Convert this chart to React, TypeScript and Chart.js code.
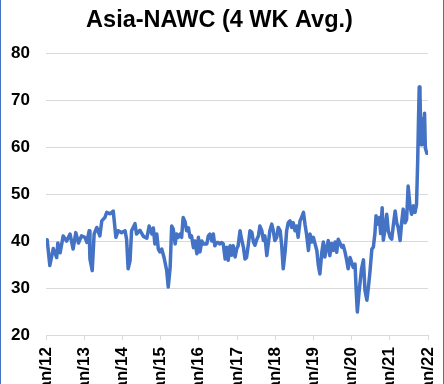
import React, { useEffect, useRef } from "react";
import { Chart, registerables } from "chart.js";

Chart.register(...registerables);

const TITLE = "Asia-NAWC (4 WK Avg.)";
const FONT = "'Liberation Sans', Arial, sans-serif";
const LINE_COLOR = "#4472C4";

// x axis: years (2-digit), y axis: rate
const yearStart = 12;
const yearEnd = 22;
const yMin = 20;
const yMax = 80;
const yStep = 10;

// decimal year of each observation
const dates = [
  12.03, 12.10, 12.19, 12.28, 12.31, 12.37, 12.45, 12.54, 12.63, 12.71, 12.78, 12.85, 12.93,
  13.02, 13.07, 13.13, 13.15, 13.21, 13.26, 13.33, 13.41, 13.46, 13.54, 13.59, 13.68, 13.76, 13.83, 13.89, 13.98,
  14.07, 14.11, 14.15, 14.20, 14.24, 14.33, 14.37, 14.46, 14.55, 14.64, 14.70, 14.77, 14.81, 14.85, 14.90, 14.94, 14.98,
  15.03, 15.09, 15.16, 15.20, 15.25, 15.29, 15.33, 15.38, 15.42, 15.46, 15.51, 15.55, 15.59, 15.64, 15.68, 15.73, 15.77, 15.81, 15.86, 15.90, 15.95, 15.99,
  16.03, 16.08, 16.12, 16.21, 16.25, 16.29, 16.34, 16.38, 16.42, 16.47, 16.51, 16.55, 16.60, 16.64, 16.69, 16.73, 16.77, 16.82, 16.86, 16.90, 16.95, 16.99,
  17.03, 17.08, 17.12, 17.17, 17.21, 17.25, 17.30, 17.34, 17.39, 17.43, 17.47, 17.52, 17.56, 17.60, 17.65, 17.69, 17.73, 17.78, 17.82, 17.86, 17.91, 17.95, 17.99,
  18.04, 18.08, 18.13, 18.17, 18.21, 18.26, 18.30, 18.34, 18.39, 18.43, 18.47, 18.52, 18.56, 18.60, 18.65, 18.69, 18.74, 18.78, 18.82, 18.87, 18.91, 18.96,
  19.00, 19.04, 19.09, 19.13, 19.17, 19.22, 19.26, 19.30, 19.35, 19.39, 19.43, 19.48, 19.52, 19.57, 19.61, 19.65, 19.70, 19.74, 19.78, 19.83, 19.87, 19.91, 19.96,
  20.00, 20.04, 20.09, 20.12, 20.15, 20.20, 20.26, 20.31, 20.35, 20.40, 20.44, 20.48, 20.53, 20.57, 20.61, 20.64, 20.67, 20.73, 20.76, 20.80, 20.83, 20.87, 20.92, 20.96,
  21.01, 21.05, 21.09, 21.14, 21.18, 21.22, 21.27, 21.31, 21.35, 21.40, 21.44, 21.48, 21.53, 21.57, 21.62, 21.66, 21.70, 21.73, 21.75, 21.77, 21.79, 21.82, 21.84, 21.88, 21.91, 21.93, 21.97,
];

// 4-week average rate
const rates = [
  40.3, 34.8, 38.4, 36.5, 39.6, 37.5, 41.1, 40.0, 41.5, 38.3, 41.8, 39.6, 41.1,
  40.8, 39.7, 42.2, 36.2, 33.7, 41.5, 42.9, 41.1, 44.3, 45.0, 46.1, 45.8, 46.4, 40.8, 42.2, 41.8,
  42.2, 40.4, 34.1, 35.8, 42.2, 43.7, 41.5, 42.3, 41.0, 40.6, 43.2, 41.5, 42.8, 39.4, 41.5, 38.3, 37.7,
  38.3, 36.5, 33.7, 30.2, 34.4, 43.2, 42.6, 39.4, 41.5, 40.8, 41.5, 40.8, 45.0, 44.1, 42.2, 42.8, 40.8, 41.1, 38.6, 40.0, 37.3, 40.8,
  37.7, 40.0, 39.4, 39.4, 41.1, 41.5, 40.0, 41.5, 39.0, 39.7, 39.7, 39.4, 39.7, 39.4, 36.2, 38.7, 35.9, 39.0, 37.0, 39.0, 36.6, 38.3,
  39.0, 42.2, 40.4, 38.6, 36.2, 36.5, 39.5, 42.2, 41.8, 39.8, 39.1, 40.4, 41.1, 43.2, 42.2, 40.1, 41.1, 36.9, 39.5, 42.2, 43.6, 42.2, 40.1,
  40.8, 42.9, 42.2, 39.1, 34.1, 37.8, 42.2, 43.9, 44.3, 42.9, 43.9, 42.2, 43.2, 40.8, 44.3, 45.0, 46.1, 43.6, 41.5, 38.0, 41.5, 39.8,
  40.8, 39.5, 38.0, 34.8, 33.0, 37.6, 39.8, 36.6, 38.7, 40.1, 36.9, 39.5, 38.0, 39.8, 37.6, 40.4, 39.5, 38.7, 39.1, 37.6, 36.0, 34.1, 36.5,
  35.5, 34.4, 35.1, 29.5, 24.9, 29.5, 34.1, 36.0, 29.5, 27.4, 30.2, 33.4, 38.3, 38.7, 41.6, 45.4, 43.6, 45.0, 41.6, 47.1, 40.2, 42.2, 45.7, 42.2,
  40.8, 40.4, 43.2, 46.4, 43.9, 42.9, 40.1, 43.9, 46.8, 43.9, 44.6, 51.7, 47.4, 45.7, 47.5, 46.1, 47.8, 57.0, 65.4, 72.8, 71.4, 60.5, 66.1, 61.9, 67.2, 59.8, 58.7,
];

const tickLabel = (year: number) => "Jan/" + year;

export default function App() {
  const ref = useRef<HTMLCanvasElement>(null);

  useEffect(() => {
    const points = dates.map((d, i) => ({ x: d, y: rates[i] }));
    const chart = new Chart(ref.current as HTMLCanvasElement, {
      type: "line",
      data: {
        datasets: [
          {
            data: points,
            borderColor: LINE_COLOR,
            backgroundColor: LINE_COLOR,
            borderWidth: 3.5,
            borderJoinStyle: "round",
            borderCapStyle: "round",
            pointRadius: 0,
            tension: 0,
            fill: false,
          },
        ],
      },
      options: {
        animation: false,
        responsive: false,
        layout: { padding: { left: 0, right: 5, top: 0, bottom: 0 } },
        plugins: {
          legend: { display: false },
          tooltip: { enabled: false },
          title: {
            display: true,
            text: TITLE,
            color: "#000",
            font: { family: FONT, size: 23.5, weight: "bold" },
            padding: { top: 6, bottom: 19 },
          },
        },
        scales: {
          x: {
            type: "linear",
            min: yearStart,
            max: yearEnd,
            afterFit: (s: any) => {
              s.height = 49;
              s.paddingLeft = 0;
              s.paddingRight = 16;
            },
            grid: {
              drawOnChartArea: false,
              drawTicks: true,
              tickLength: 5,
              color: "#d9d9d9",
            },
            border: { display: true, color: "#d9d9d9" },
            ticks: {
              stepSize: 1,
              autoSkip: false,
              minRotation: 90,
              maxRotation: 90,
              padding: 7,
              color: "#000",
              font: { family: FONT, size: 17, weight: "bold" },
              callback: (v: any) => tickLabel(Number(v)),
            },
          },
          y: {
            min: yMin,
            max: yMax,
            afterFit: (s: any) => {
              s.width = 46;
            },
            grid: { color: "#d9d9d9", drawTicks: false },
            border: { display: false },
            ticks: {
              stepSize: yStep,
              padding: 16,
              color: "#000",
              font: { family: FONT, size: 17, weight: "bold" },
            },
          },
        },
      },
    });
    return () => chart.destroy();
  }, []);

  return (
    <div style={{ position: "fixed", left: 0, top: 0, width: 444, height: 384, background: "#fff" }}>
      <canvas ref={ref} width={444} height={384} style={{ display: "block", width: 444, height: 384 }} />
      <div
        style={{
          position: "absolute",
          left: 0,
          top: 0,
          width: 444,
          height: 384,
          boxSizing: "border-box",
          borderLeft: `1px solid ${LINE_COLOR}`,
          borderRight: `1px solid ${LINE_COLOR}`,
          pointerEvents: "none",
        }}
      />
    </div>
  );
}
